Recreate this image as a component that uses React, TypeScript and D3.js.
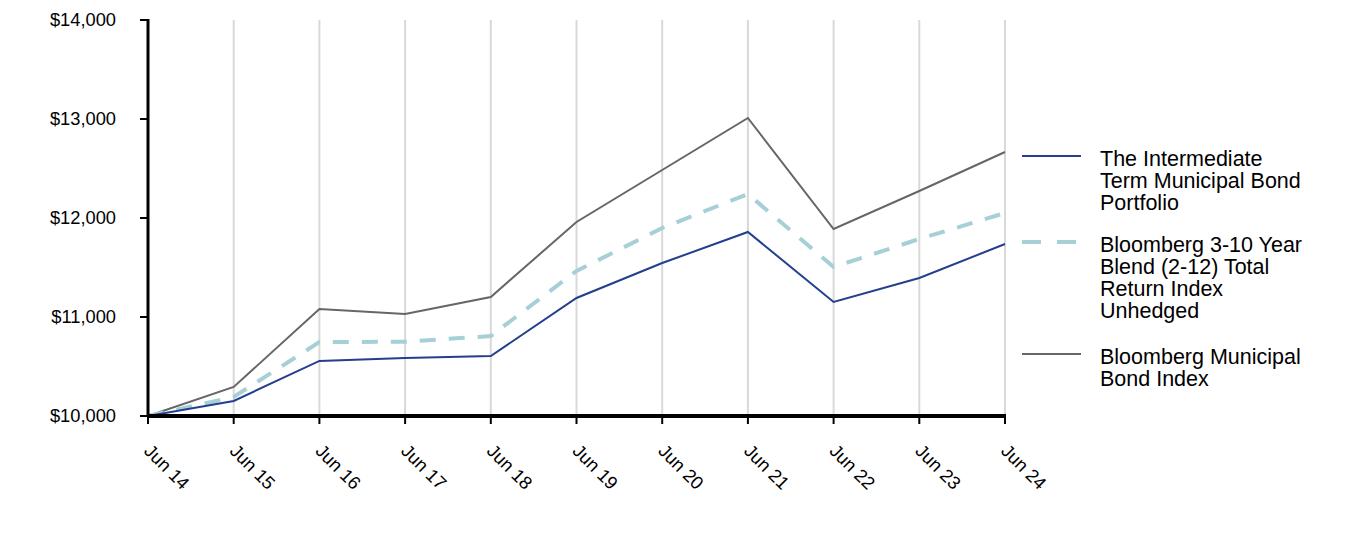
import React from "react";
import * as d3 from "d3";

const categories = ["Jun 14","Jun 15","Jun 16","Jun 17","Jun 18","Jun 19","Jun 20","Jun 21","Jun 22","Jun 23","Jun 24"];
const portfolio = [10000,10152,10556,10586,10606,11192,11545,11859,11152,11394,11737];
const blend310 = [10000,10192,10747,10750,10808,11465,11899,12242,11505,11788,12050];
const muniIndex = [10000,10293,11081,11030,11202,11960,12485,13010,11889,12273,12667];
const yTicks = [10000,11000,12000,13000,14000];

const seriesNames = [
  ["The Intermediate","Term Municipal Bond","Portfolio"],
  ["Bloomberg 3-10 Year","Blend (2-12) Total","Return Index","Unhedged"],
  ["Bloomberg Municipal","Bond Index"],
];

export default function App() {
  const left = 148, right = 1005, top = 20, bottom = 416;
  const x = d3.scalePoint<string>().domain(categories).range([left, right]);
  const y = d3.scaleLinear().domain([10000, 14000]).range([bottom, top]);
  const line = d3.line<number>().x((_, i) => x(categories[i])!).y(d => y(d));
  const font = "'Liberation Sans', Arial, sans-serif";
  const series = [
    { data: muniIndex, color: "#666666", width: 2, dash: undefined },
    { data: blend310, color: "#a6d0d6", width: 4, dash: "16 13" },
    { data: portfolio, color: "#233f8e", width: 2, dash: undefined },
  ];
  const legend = [
    { color: "#233f8e", width: 2, dash: undefined, ly: 156, lines: seriesNames[0] },
    { color: "#a6d0d6", width: 4, dash: "19 16", ly: 242, lines: seriesNames[1] },
    { color: "#666666", width: 2, dash: undefined, ly: 354, lines: seriesNames[2] },
  ];
  return (
    <svg width={1368} height={540} style={{ position: "absolute", left: 0, top: 0, display: "block" }} fontFamily={font}>
      {categories.map(c => (
        <line key={"g" + c} x1={x(c)} x2={x(c)} y1={top} y2={bottom} stroke="#d9d9d9" strokeWidth={2} />
      ))}
      {series.map((s, i) => (
        <path key={i} d={line(s.data)!} fill="none" stroke={s.color} strokeWidth={s.width} strokeDasharray={s.dash} />
      ))}
      <line x1={left} x2={left} y1={top - 1} y2={bottom + 1} stroke="#000" strokeWidth={3} />
      <line x1={left - 1} x2={right + 1} y1={bottom} y2={bottom} stroke="#000" strokeWidth={4} />
      {yTicks.map(t => (
        <g key={t}>
          <line x1={left - 8} x2={left} y1={y(t)} y2={y(t)} stroke="#000" strokeWidth={2} />
          <text x={116} y={y(t)} dy="0.35em" textAnchor="end" fontSize={18.3} fill="#000">
            {d3.format("$,")(t)}
          </text>
        </g>
      ))}
      {categories.map(c => (
        <g key={"t" + c}>
          <line x1={x(c)} x2={x(c)} y1={bottom} y2={bottom + 8} stroke="#000" strokeWidth={2} />
          <text transform={`translate(${x(c)! - 5},${bottom + 36}) rotate(45)`} fontSize={18.3} fill="#000">
            {c}
          </text>
        </g>
      ))}
      {legend.map((l, i) => (
        <g key={"l" + i}>
          <line x1={1022} x2={i === 1 ? 1078 : 1081} y1={l.ly} y2={l.ly} stroke={l.color} strokeWidth={l.width} strokeDasharray={l.dash} />
          {l.lines.map((t, j) => (
            <text key={j} x={1100} y={l.ly + 2 + j * 22} dy="0.35em" fontSize={21.5} fill="#000">{t}</text>
          ))}
        </g>
      ))}
    </svg>
  );
}
